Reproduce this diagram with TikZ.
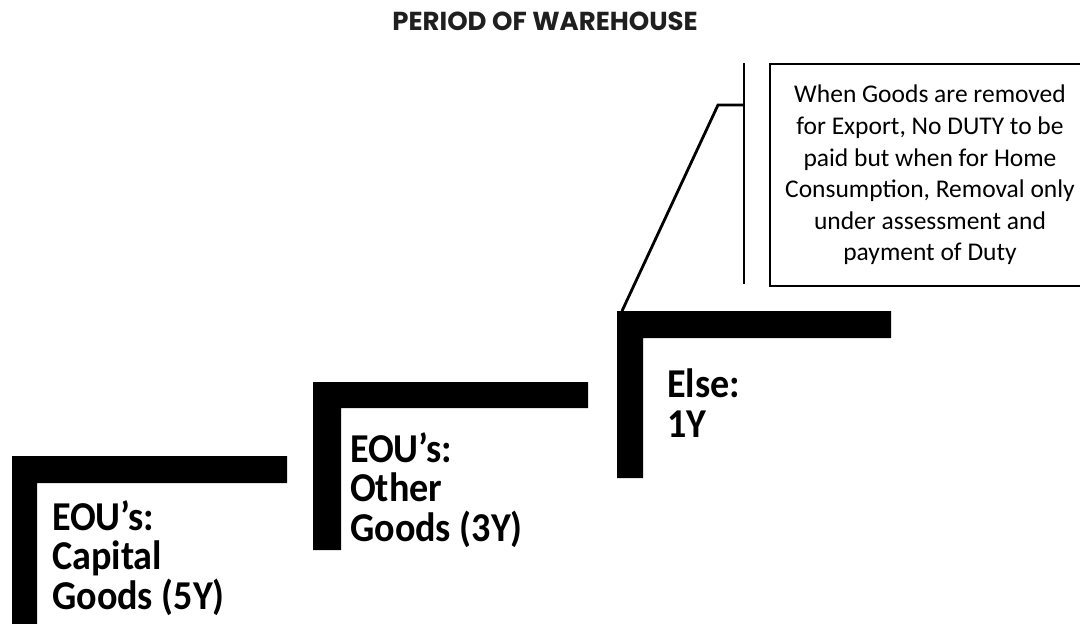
\documentclass[tikz,border=0pt]{standalone}
\usepackage{fontspec}
\setmainfont{Carlito}
\newfontfamily\titlefont{Poppins}
\newfontfamily\stepfont{Carlito}[FakeStretch=0.93]
\usetikzlibrary{calc}

\begin{document}
\begin{tikzpicture}[
  x=1pt, y=-1pt,
  stepbar/.style={fill=black},
  steptext/.style={anchor=base west, align=left, inner sep=0pt,
    font=\stepfont\fontsize{41}{39.5}\selectfont\bfseries},
  note/.style={draw, line width=1.8pt, inner sep=0pt, align=center,
    minimum width=320pt, minimum height=222pt,
    font=\fontsize{25.5}{31.6}\selectfont},
  callout/.style={draw, line width=2.8pt}
]
\clip (0,0) rectangle (1080,624);
\node[font=\titlefont\bfseries\fontsize{26}{26}\selectfont, text=black!88] (title) at (545,21) {PERIOD OF WAREHOUSE};

% the three steps
\fill[stepbar] (12,456) -- (287,456) -- (287,483) -- (37,483) -- (37,630) -- (12,630) -- cycle;
\fill[stepbar] (313,382) -- (588,382) -- (588,408) -- (341,408) -- (341,550) -- (313,550) -- cycle;
\fill[stepbar] (617,311) -- (891,311) -- (891,338) -- (643,338) -- (643,478) -- (617,478) -- cycle;

\node[steptext] (capital) at (52,609) {EOU’s:\\Capital\\Goods (5Y)};
\node[steptext] (other) at (350,541) {EOU’s:\\Other\\Goods (3Y)};
\node[steptext] (else) at (667,437) {Else:\\1Y};

% note on the last step
\node[note] (duty) at (930,175) {When Goods are removed\\for Export, No DUTY to be\\paid but when for Home\\Consumption, Removal only\\under assessment and\\payment of Duty};
\coordinate (brtop) at (744,63);
\coordinate (brbot) at (744,284);
\coordinate (brmid) at (744,105);
\coordinate (elbow) at (718,105);
\coordinate (corner) at (622,311);
\draw[callout] (brtop) -- (brbot);
\draw[callout] (corner) -- (elbow) -- (brmid);
\end{tikzpicture}
\end{document}
